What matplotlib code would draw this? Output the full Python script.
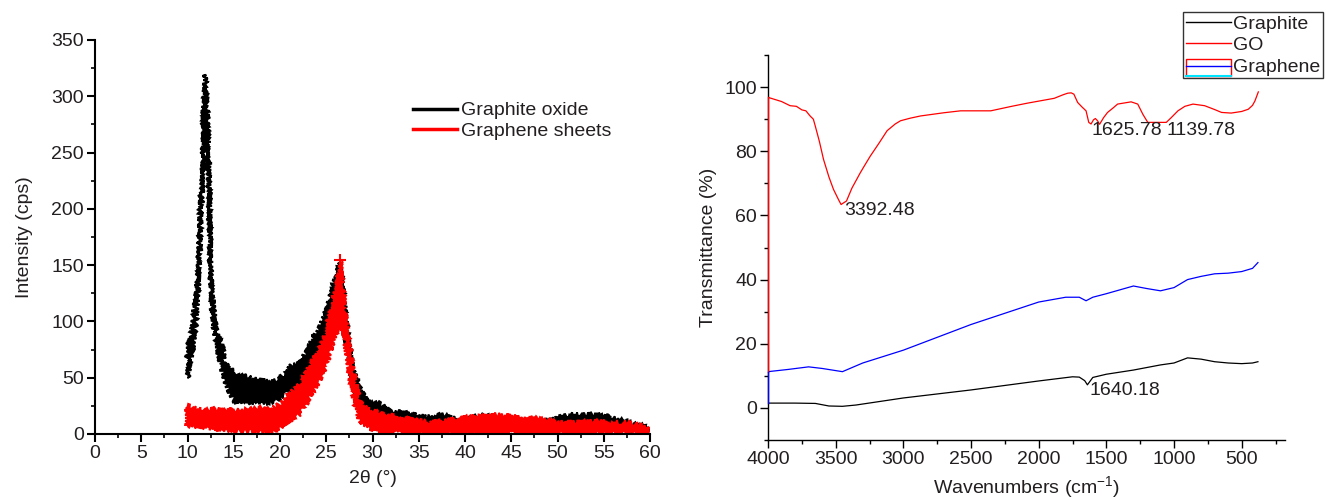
import matplotlib
matplotlib.use("Agg")
import matplotlib.pyplot as plt
from matplotlib.ticker import MultipleLocator
from matplotlib.legend_handler import HandlerBase
from matplotlib.patches import Rectangle
from matplotlib.lines import Line2D

plt.rcParams['font.family'] = ['Liberation Sans', 'DejaVu Sans']
plt.rcParams['mathtext.fontset'] = 'custom'
plt.rcParams['mathtext.rm'] = 'Liberation Sans'
plt.rcParams['mathtext.it'] = 'Liberation Sans'
TXT = '#231f20'

# ---------------- XRD data (envelopes of the noisy traces) ----------------
go_xrd_x = [10.0, 10.3, 10.6, 10.9, 11.2, 11.4, 11.6, 11.7, 11.9, 12.1, 12.35, 12.5, 12.7, 13.0,
            13.3, 13.7, 14.0, 14.6, 15.3, 16.4, 17.5, 18.6, 19.6, 20.7, 21.1, 22.2, 23.2, 24.3,
            25.0, 25.8, 26.5, 27.0, 27.4, 27.9, 28.6, 29.5, 30.8, 31.9, 34.0, 35.9, 37.7, 39.5,
            42.0, 44.9, 48.5, 51.4, 54.6, 57.5, 59.3, 59.9]
go_xrd_hi = [75, 86, 98, 121, 149, 208, 223, 274, 319, 295, 224, 152, 121, 99,
             86, 81, 66, 57, 54, 51, 48, 47, 48, 54, 60, 63, 80, 95,
             110, 134, 152, 113, 84, 57, 42, 28, 27, 20, 18, 15, 17, 12,
             17, 11, 11, 17, 17, 11, 7, 4]
go_xrd_lo = [50, 64, 78, 99, 135, 184, 211, 248, 294, 249, 220, 143, 107, 86,
             72, 60, 48, 36, 27, 28, 28, 28, 30, 36, 36, 45, 57, 75,
             92, 116, 146, 86, 72, 42, 27, 18, 15, 12, 9, 7, 8, 6,
             7, 6, 5, 6, 7, 5, 3, 2]

gs_xrd_x = [10.0, 11.0, 12.0, 13.0, 14.0, 15.0, 16.0, 17.0, 17.8, 18.9, 20.0, 21.1, 22.2, 23.2,
            24.3, 25.0, 25.8, 26.2, 26.5, 26.8, 27.2, 27.7, 28.2, 28.6, 29.0, 29.7, 30.8, 33.0,
            35.9, 39.5, 43.1, 45.6, 47.4, 50.3, 53.9, 57.5, 59.9]
gs_xrd_hi = [25, 22, 21, 22, 21, 21, 21, 22, 24, 21, 27, 36, 45, 60,
             75, 92, 122, 131, 153, 128, 98, 66, 45, 30, 24, 22, 18, 15,
             10, 14, 17, 15, 14, 10, 11, 10, 5]
gs_xrd_lo = [8, 7, 6, 5, 4, 3, 3, 3, 2, 1, 6, 12, 18, 33,
             48, 60, 84, 90, 92, 95, 72, 45, 24, 12, 9, 5, 2, 1,
             1, 1, 1, 1, 1, 1, 1, 1, 1]
gs_peak_x = 26.5
gs_peak_y = 155

# ---------------- FTIR data ----------------
go_ir_x = [4000, 3900, 3837, 3790, 3750, 3720, 3689, 3665, 3651, 3620, 3590, 3550, 3516, 3480,
           3460, 3420, 3380, 3318, 3280, 3244, 3180, 3120, 3060, 3021, 2950, 2873, 2700, 2577,
           2354, 2200, 2082, 1885, 1820, 1785, 1760, 1740, 1712, 1680, 1650, 1630, 1613, 1595,
           1581, 1565, 1550, 1520, 1491, 1450, 1417, 1317, 1268, 1230, 1194, 1057, 1020, 971,
           920, 860, 774, 700, 649, 578, 500, 451, 420, 402, 377]
go_ir_y = [96.8, 95.5, 94.2, 94.0, 92.9, 92.6, 91.0, 90.0, 87.9, 83.0, 77.5, 72.0, 68.1, 65.0,
           63.4, 64.5, 68.5, 73.3, 76.0, 78.5, 82.5, 86.4, 88.5, 89.5, 90.3, 91.0, 92.0, 92.6,
           92.6, 94.0, 95.0, 96.5, 97.6, 98.1, 98.2, 97.8, 95.2, 93.8, 92.6, 89.0, 88.5, 89.8,
           90.2, 89.5, 88.4, 90.5, 92.1, 93.5, 94.7, 95.4, 94.7, 91.5, 89.0, 89.0, 90.5, 92.6,
           94.0, 94.7, 94.2, 93.0, 92.1, 91.9, 92.4, 93.1, 94.3, 95.7, 98.5]

gr_ir_x = [4000, 3850, 3700, 3600, 3450, 3300, 3000, 2500, 2000, 1800, 1700, 1650, 1600, 1500,
           1400, 1300, 1200, 1100, 1000, 900, 800, 700, 600, 500, 420, 380]
gr_ir_y = [11.3, 12.0, 12.8, 12.3, 11.3, 14.0, 18.0, 26.0, 33.0, 34.5, 34.5, 33.4, 34.5, 35.6,
           36.8, 38.0, 37.2, 36.5, 37.5, 40.0, 41.0, 41.8, 42.0, 42.5, 43.5, 45.3]

gt_ir_x = [4000, 3800, 3650, 3550, 3450, 3350, 3000, 2500, 2000, 1750, 1700, 1660, 1640, 1600,
           1500, 1300, 1100, 1000, 900, 800, 700, 600, 500, 420, 380]
gt_ir_y = [1.5, 1.5, 1.4, 0.6, 0.5, 0.9, 3.1, 5.6, 8.4, 9.7, 9.6, 8.5, 7.2, 9.5,
           10.5, 11.8, 13.4, 14.0, 15.6, 15.2, 14.4, 14.0, 13.8, 14.0, 14.4]

peak_labels = ['3392.48', '1625.78', '1139.78', '1640.18']
peak_text_x = [3437, 1613, 1057, 1628]
peak_text_y = [61.5, 86.6, 86.6, 5.3]

fig = plt.figure(figsize=(13.26, 5.0), dpi=100)

# ---------------- Left: XRD ----------------
ax1 = fig.add_axes([95 / 1326, 1 - 434 / 500, (650 - 95) / 1326, (434 - 40) / 500])
for xs, lo, hi, col in [(go_xrd_x, go_xrd_lo, go_xrd_hi, 'black'),
                        (gs_xrd_x, gs_xrd_lo, gs_xrd_hi, '#ff0000')]:
    poly = ax1.fill(list(xs) + list(xs)[::-1], list(lo) + list(hi)[::-1],
                    facecolor=col, edgecolor=col, linewidth=1.4)[0]
    poly.set_sketch_params(scale=2.5, length=2.0, randomness=4.0)
ax1.plot([gs_peak_x], [gs_peak_y], marker='+', color='#ff0000', markersize=8, mew=1.5)
ax1.set_xlim(0, 60)
ax1.set_ylim(0, 350)
ax1.xaxis.set_major_locator(MultipleLocator(5))
ax1.xaxis.set_minor_locator(MultipleLocator(2.5))
ax1.yaxis.set_major_locator(MultipleLocator(50))
ax1.yaxis.set_minor_locator(MultipleLocator(25))
for s in ['top', 'right']:
    ax1.spines[s].set_visible(False)
for s in ['left', 'bottom']:
    ax1.spines[s].set_linewidth(1.5)
    ax1.spines[s].set_zorder(3)
ax1.tick_params(which='major', direction='out', length=6, width=1.5, labelsize=14,
                labelcolor=TXT, pad=2)
ax1.tick_params(which='minor', direction='out', length=3, width=1.2)
ax1.set_xlabel('2θ (°)', fontsize=14, color=TXT, labelpad=6)
ax1.set_ylabel('Intensity (cps)', fontsize=14, color=TXT, labelpad=13)
h1 = [Line2D([], [], color='black', lw=2.5), Line2D([], [], color='#ff0000', lw=2.5)]
ax1.legend(h1, ['Graphite oxide', 'Graphene sheets'], loc='upper left',
           bbox_to_anchor=((403 - 95) / 555, 1 - (92 - 40) / 394), frameon=False,
           fontsize=14, handlelength=2.3, handletextpad=0.2, labelspacing=0.15,
           borderpad=0, labelcolor=TXT)

# ---------------- Right: FTIR ----------------
ax2 = fig.add_axes([768 / 1326, 1 - 440 / 500, (1285 - 768) / 1326, (440 - 55) / 500])
ax2.plot(gt_ir_x, gt_ir_y, color='black', lw=0.9)
ax2.plot(go_ir_x, go_ir_y, color='#ff0000', lw=0.9)
ax2.plot(gr_ir_x, gr_ir_y, color='#0000ff', lw=0.9)
ax2.plot([go_ir_x[0], go_ir_x[0]], [go_ir_y[0], gr_ir_y[0]], color='#ff0000', lw=1.0,
         zorder=3, clip_on=False)
ax2.plot([gr_ir_x[0], gr_ir_x[0]], [gr_ir_y[0], gt_ir_y[0]], color='#0000ff', lw=1.0,
         zorder=3, clip_on=False)
for lab, tx, ty in zip(peak_labels, peak_text_x, peak_text_y):
    ax2.text(tx, ty, lab, fontsize=14, color=TXT, ha='left', va='center')
ax2.set_xlim(4000, 180)
ax2.set_ylim(-10, 110)
ax2.xaxis.set_major_locator(MultipleLocator(500))
ax2.xaxis.set_minor_locator(MultipleLocator(250))
ax2.yaxis.set_major_locator(MultipleLocator(20))
ax2.yaxis.set_minor_locator(MultipleLocator(10))
for s in ['top', 'right']:
    ax2.spines[s].set_visible(False)
for s in ['left', 'bottom']:
    ax2.spines[s].set_linewidth(1.0)
ax2.tick_params(which='major', direction='out', length=6, width=1.0, labelsize=14,
                labelcolor=TXT, pad=2)
ax2.tick_params(which='minor', direction='out', length=3, width=1.0)
ax2.set_xlabel(r'Wavenumbers (cm$^{\mathregular{-1}}$)', fontsize=14, color=TXT, labelpad=4)
ax2.set_ylabel('Transmittance (%)', fontsize=14, color=TXT, labelpad=5)


class BoxedHandler(HandlerBase):
    def create_artists(self, legend, orig_handle, xdescent, ydescent, width, height,
                       fontsize, trans):
        x0, y0 = -xdescent, -ydescent
        rect = Rectangle((x0, y0 - 0.35 * height), width, 1.3 * height, fill=False,
                         edgecolor='#ff0000', lw=1.0, transform=trans)
        line = Line2D([x0, x0 + width], [y0 + 0.4 * height] * 2, color='#0000ff', lw=1.0,
                      transform=trans)
        cyan = Line2D([x0, x0 + width], [y0 - 0.35 * height] * 2, color='#00e5ff', lw=1.5,
                      transform=trans)
        return [rect, line, cyan]


h2 = [Line2D([], [], color='black', lw=1.0), Line2D([], [], color='#ff0000', lw=1.0), 'box']
leg2 = fig.legend(h2, ['Graphite', 'GO', 'Graphene'], loc='upper right',
                  bbox_to_anchor=(1323 / 1326, 1 - 12 / 500), bbox_transform=fig.transFigure,
                  fontsize=14, handlelength=2.3, handletextpad=0.1, labelspacing=0.2,
                  borderpad=0.15, borderaxespad=0, fancybox=False, framealpha=1,
                  edgecolor='#333333', labelcolor=TXT,
                  handler_map={str: BoxedHandler()})
leg2.get_frame().set_linewidth(1.0)

fig.savefig('out.png', dpi=100)
